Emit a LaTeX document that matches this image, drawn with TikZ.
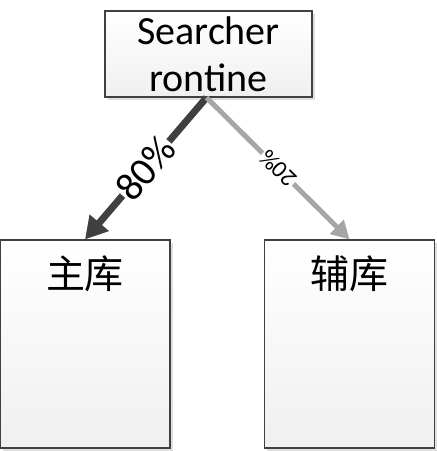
\documentclass[tikz,border=0pt]{standalone}
\usepackage{fontspec}
\setmainfont{Carlito}
\newfontfamily\cjk{Noto Sans CJK SC}
\usetikzlibrary{arrows.meta,positioning,shadows}
\definecolor{darkline}{HTML}{404040}
\definecolor{lightline}{HTML}{A6A6A6}
\tikzset{
  box/.style={draw=darkline, line width=1.1pt, top color=white, bottom color=black!6,
    drop shadow={opacity=0.25, shadow xshift=2.5pt, shadow yshift=-2.5pt}},
  cjktext/.style={font=\cjk\fontsize{39}{42}\selectfont, inner sep=0pt},
  pct/.style={fill=white, inner sep=1pt, sloped}
}
\begin{document}
\begin{tikzpicture}[x=1pt,y=-1pt]
\useasboundingbox (0,0) rectangle (437,451);
%Top
\node[box, minimum width=207pt, minimum height=86pt, align=center, inner sep=0pt,
  font=\fontsize{40}{47}\selectfont] (searcher) at (208.5,54) {Searcher\\rontine};

%Bottom
\node[box, minimum width=170pt, minimum height=208pt] (mainbox) at (85,344) {};
\node[box, minimum width=170pt, minimum height=208pt] (auxbox) at (349.5,344) {};
\node[cjktext, below=16pt of mainbox.north] (maintext) {主库};
\node[cjktext, below=16pt of auxbox.north] (auxtext) {辅库};

%Arrows
\draw[-{Triangle[length=22pt,width=24pt]}, line width=7pt, darkline]
  ([xshift=-2pt]searcher.south) -- node[pct, font=\fontsize{40}{44}\selectfont, text=black] (eighty) {80\%} (mainbox.north);
\draw[-{Triangle[length=18pt,width=19pt]}, line width=5pt, lightline]
  ([xshift=-2pt]searcher.south) -- node[pct, rotate=180, font=\fontsize{24}{28}\selectfont, text=black] (twenty) {20\%} (auxbox.north);
\end{tikzpicture}
\end{document}
